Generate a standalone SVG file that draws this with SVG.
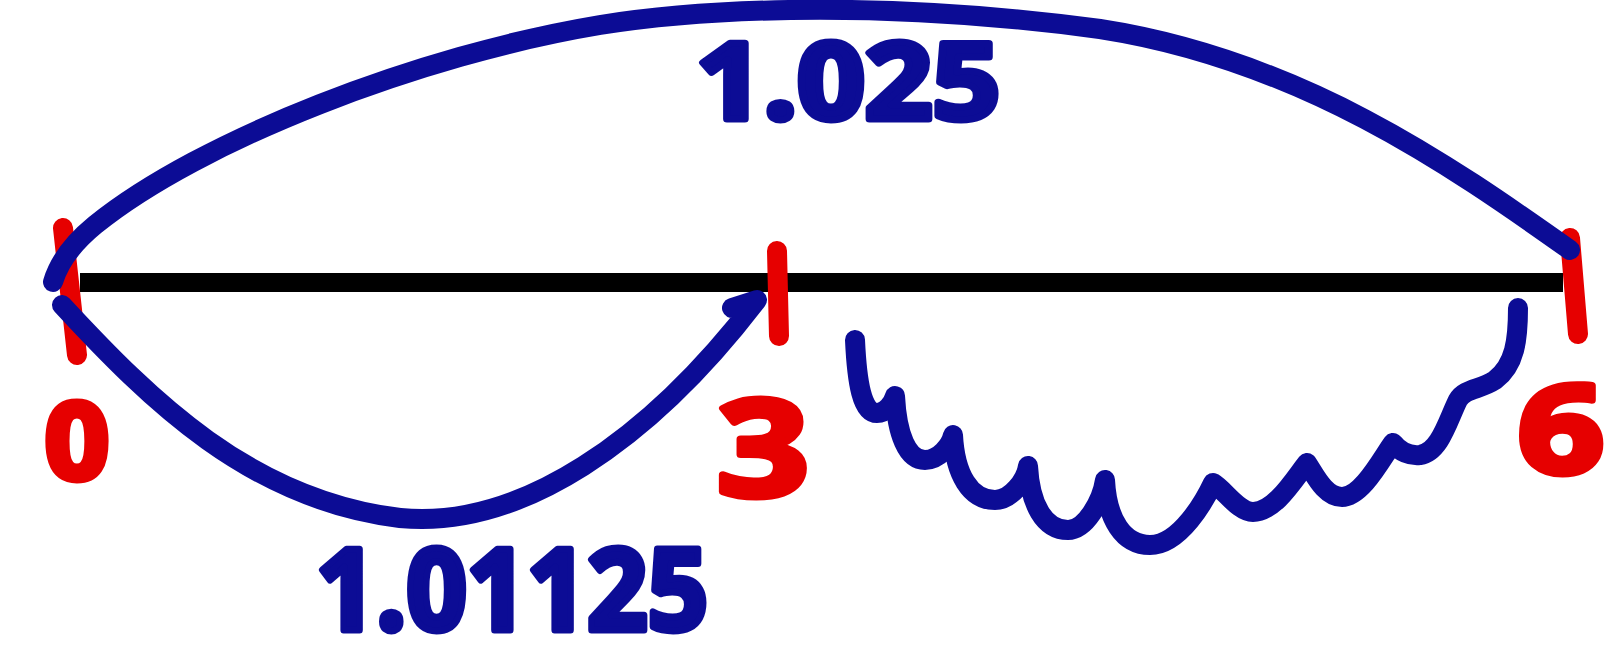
<svg xmlns="http://www.w3.org/2000/svg" width="1615" height="661" viewBox="0 0 1615 661">
  <style>
    .axis { stroke: #000000; stroke-width: 19; fill: none; }
    .tick { stroke: #e60000; stroke-width: 20; stroke-linecap: round; fill: none; }
    .arc { stroke: #0c0c95; stroke-width: 20; stroke-linecap: round; stroke-linejoin: round; fill: none; }
    .num { font-family: "Open Sans", "DejaVu Sans", sans-serif; font-weight: 700; fill: #e60000; stroke: #e60000; stroke-width: 7; stroke-linejoin: round; text-anchor: middle; }
    .lbl { font-family: "Open Sans", "DejaVu Sans", sans-serif; font-weight: 700; fill: #0c0c95; stroke: #0c0c95; stroke-width: 7; stroke-linejoin: round; }
  </style>
  <rect width="1615" height="661" fill="#ffffff"/>

  <g id="axis">
    <line class="axis" x1="80" y1="282.5" x2="1563" y2="282.5"/>
  </g>

  <g id="node-0">
    <line class="tick" x1="63" y1="228" x2="77" y2="355"/>
    <text class="num" x="77" y="479" font-size="106" textLength="64" lengthAdjust="spacingAndGlyphs">0</text>
  </g>

  <g id="node-3">
    <line class="tick" x1="777" y1="251" x2="779" y2="336"/>
    <text class="num" x="763" y="496" font-size="132" textLength="92" lengthAdjust="spacingAndGlyphs">3</text>
  </g>

  <g id="node-6">
    <line class="tick" x1="1570" y1="238" x2="1578" y2="334"/>
    <text class="num" x="1561" y="473" font-size="122" textLength="86" lengthAdjust="spacingAndGlyphs">6</text>
  </g>

  <g id="connectors">
    <path class="arc" d="M53,282 Q62,252 95,225 C200,140 420,55 600,25 C720,6 900,2 1100,29 C1300,60 1450,165 1570,250"/>
    <path class="arc" d="M62,305 C150,400 250,500 400,518 C520,530 650,440 757,300 L732,308"/>
    <path class="arc" d="M855,340 C857,383 862,413 877,413 C886,413 893,403 895,396 C897,434 907,460 925,460 C939,460 951,445 953,435 C955,474 970,500 995,500 C1011,500 1026,480 1028,466 C1030,504 1044,530 1068,530 C1086,530 1102,500 1105,480 C1107,519 1123,545 1150,545 C1180,545 1205,500 1213,483 C1225,490 1238,512 1253,512 C1275,512 1295,478 1307,463 C1315,475 1325,497 1342,497 C1362,497 1382,458 1393,443 C1400,452 1410,456 1420,455 C1440,452 1448,420 1458,400 C1465,388 1480,390 1495,380 C1515,365 1518,340 1518,308"/>
  </g>

  <g id="labels">
    <text class="lbl" x="696" y="119" font-size="106" textLength="304" lengthAdjust="spacingAndGlyphs">1.025</text>
    <text class="lbl" x="316" y="630" font-size="113" textLength="392" lengthAdjust="spacingAndGlyphs">1.01125</text>
  </g>
</svg>
